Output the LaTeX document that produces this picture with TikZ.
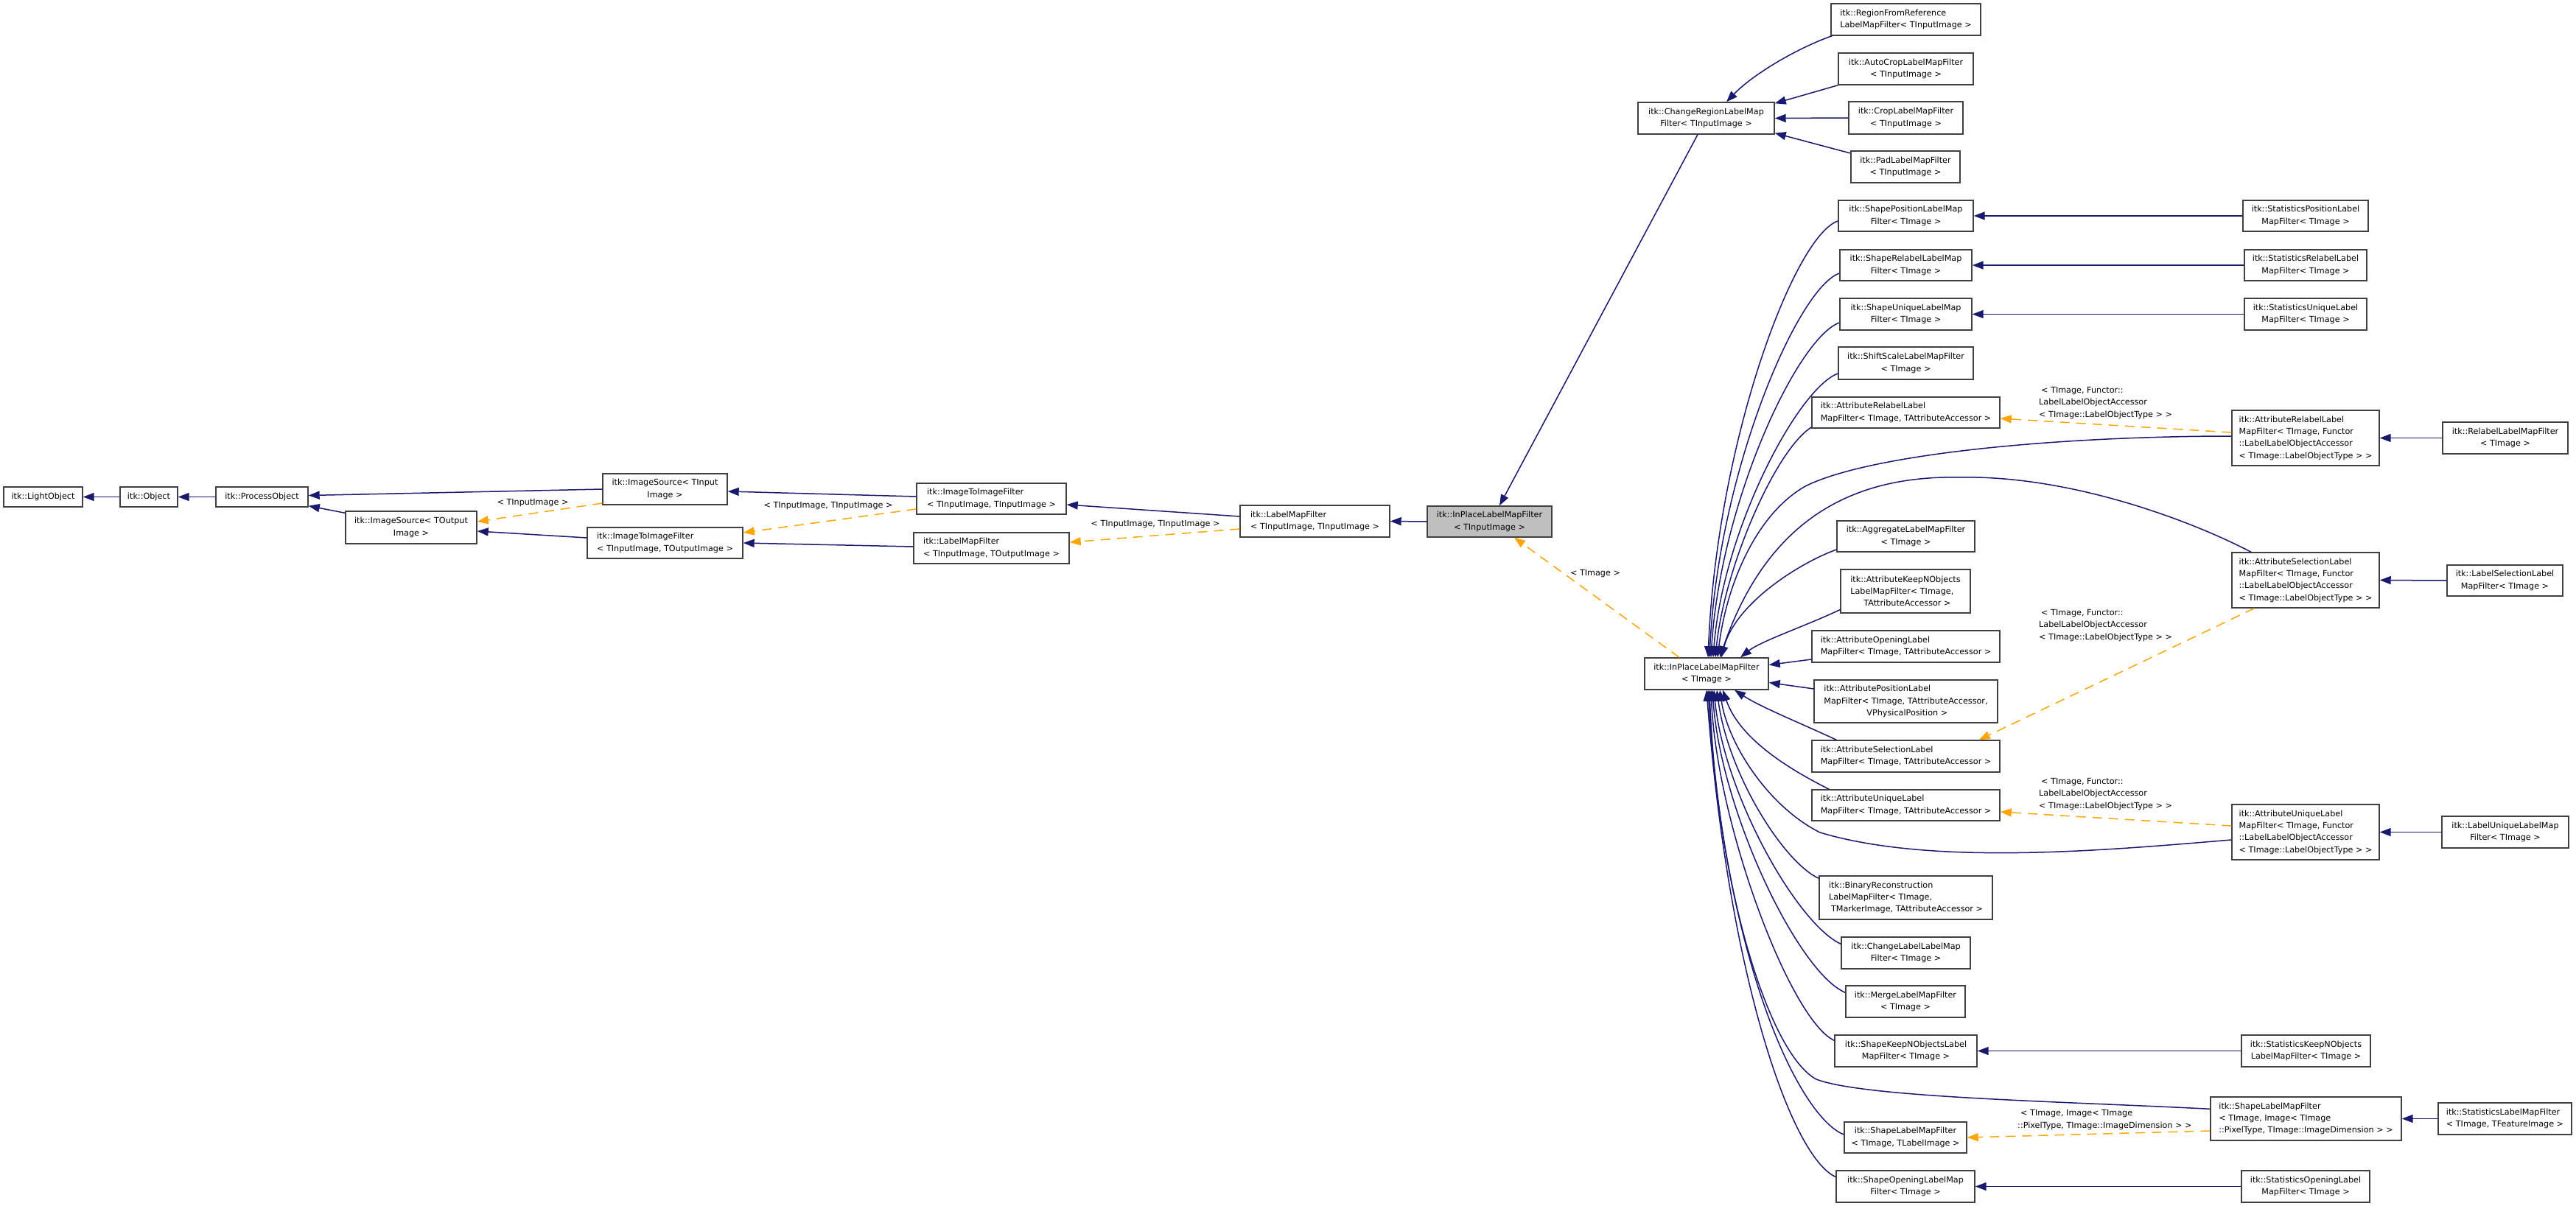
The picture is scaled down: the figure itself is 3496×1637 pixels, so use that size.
\documentclass[tikz,border=0pt]{standalone}
\usepackage{fontspec}
\setmainfont{DejaVu Sans}
\usetikzlibrary{arrows.meta}
\definecolor{navy}{HTML}{191970}
\definecolor{dorange}{HTML}{FFA500}
\definecolor{boxgray}{HTML}{404040}
\definecolor{grayfill}{HTML}{BFBFBF}
\newcommand\nf{\fontsize{11.2}{16.3}\selectfont}
\tikzset{
  cls/.style={draw=boxgray, line width=1.4pt, fill=white, inner sep=0pt, font=\nf, align=center},
  lcls/.style={cls, align=left},
  inh/.style={draw=navy, line width=1.5pt, -{Triangle[length=15pt,width=11pt]}},
  tpl/.style={draw=dorange, line width=1.5pt, dash pattern=on 13pt off 9pt, -{Triangle[length=15pt,width=11pt]}},
  lab/.style={font=\nf, inner sep=0pt, align=center},
  llab/.style={font=\nf, inner sep=0pt, align=left, anchor=west},
}
\begin{document}
\begin{tikzpicture}[x=1pt,y=-1pt]
\useasboundingbox[fill=white] (0,0) rectangle (3496,1637);

% ---------- left chain ----------
\node[cls,minimum width=107pt,minimum height=27pt] (lo) at (58.5,674.5) {itk::LightObject};
\node[cls,minimum width=78pt,minimum height=27pt] (obj) at (202,674.5) {itk::Object};
\node[cls,minimum width=125pt,minimum height=27pt] (po) at (355.5,674.5) {itk::ProcessObject};
\node[cls,minimum width=169pt,minimum height=42pt] (isi) at (902.5,664) {itk::ImageSource< TInput\\Image >};
\node[cls,minimum width=178pt,minimum height=44pt] (iso) at (558,716) {itk::ImageSource< TOutput\\Image >};
\node[lcls,minimum width=211pt,minimum height=42pt] (iito) at (902.5,737) {itk::ImageToImageFilter\\< TInputImage, TOutputImage >};
\node[lcls,minimum width=203pt,minimum height=42pt] (iiti) at (1345.5,677) {itk::ImageToImageFilter\\< TInputImage, TInputImage >};
\node[lcls,minimum width=211pt,minimum height=42pt] (lmto) at (1345.5,744) {itk::LabelMapFilter\\< TInputImage, TOutputImage >};
\node[lcls,minimum width=203pt,minimum height=43pt] (lmti) at (1784.5,707.5) {itk::LabelMapFilter\\< TInputImage, TInputImage >};
\node[cls,fill=grayfill,minimum width=169pt,minimum height=42pt] (ipti) at (2021.5,708) {itk::InPlaceLabelMapFilter\\< TInputImage >};

% ---------- top right ----------
\node[cls,minimum width=185pt,minimum height=43pt] (crl) at (2315.5,160.5) {itk::ChangeRegionLabelMap\\Filter< TInputImage >};
\node[lcls,minimum width=203pt,minimum height=43pt] (rfr) at (2586.5,26.5) {itk::RegionFromReference\\LabelMapFilter< TInputImage >};
\node[cls,minimum width=183pt,minimum height=43pt] (acr) at (2586.5,93.5) {itk::AutoCropLabelMapFilter\\< TInputImage >};
\node[cls,minimum width=155pt,minimum height=44pt] (cro) at (2586.5,160) {itk::CropLabelMapFilter\\< TInputImage >};
\node[cls,minimum width=148pt,minimum height=43pt] (pad) at (2586,226.5) {itk::PadLabelMapFilter\\< TInputImage >};

% ---------- middle column ----------
\node[cls,minimum width=183pt,minimum height=42pt] (spos) at (2586.5,293) {itk::ShapePositionLabelMap\\Filter< TImage >};
\node[cls,minimum width=179pt,minimum height=42pt] (srel) at (2586.5,360) {itk::ShapeRelabelLabelMap\\Filter< TImage >};
\node[cls,minimum width=179pt,minimum height=43pt] (suni) at (2586.5,426.5) {itk::ShapeUniqueLabelMap\\Filter< TImage >};
\node[cls,minimum width=183pt,minimum height=44pt] (ssc) at (2586.5,493) {itk::ShiftScaleLabelMapFilter\\< TImage >};
\node[lcls,minimum width=255pt,minimum height=42pt] (arl) at (2586.5,560) {itk::AttributeRelabelLabel\\MapFilter< TImage, TAttributeAccessor >};
\node[cls,minimum width=187pt,minimum height=42pt] (agg) at (2586.5,728) {itk::AggregateLabelMapFilter\\< TImage >};
\node[lcls,minimum width=176pt,minimum height=59pt] (akn) at (2586,802.5) {itk::AttributeKeepNObjects\\LabelMapFilter< TImage,\\\hspace*{18pt}TAttributeAccessor >};
\node[lcls,minimum width=255pt,minimum height=43pt] (aop) at (2586.5,877.5) {itk::AttributeOpeningLabel\\MapFilter< TImage, TAttributeAccessor >};
\node[cls,minimum width=168pt,minimum height=43pt] (ipt) at (2316,914.5) {itk::InPlaceLabelMapFilter\\< TImage >};
\node[lcls,minimum width=249pt,minimum height=58pt] (apo) at (2586.5,952) {itk::AttributePositionLabel\\MapFilter< TImage, TAttributeAccessor,\\\hspace*{58pt}VPhysicalPosition >};
\node[lcls,minimum width=255pt,minimum height=43pt] (ase) at (2586.5,1026.5) {itk::AttributeSelectionLabel\\MapFilter< TImage, TAttributeAccessor >};
\node[lcls,minimum width=255pt,minimum height=42pt] (aun) at (2586.5,1093) {itk::AttributeUniqueLabel\\MapFilter< TImage, TAttributeAccessor >};
\node[lcls,minimum width=235pt,minimum height=59pt] (bin) at (2586.5,1218.5) {itk::BinaryReconstruction\\LabelMapFilter< TImage,\\\hspace*{3pt}TMarkerImage, TAttributeAccessor >};
\node[cls,minimum width=175pt,minimum height=43pt] (chl) at (2586.5,1293.5) {itk::ChangeLabelLabelMap\\Filter< TImage >};
\node[cls,minimum width=162pt,minimum height=43pt] (mer) at (2586,1359.5) {itk::MergeLabelMapFilter\\< TImage >};
\node[cls,minimum width=193pt,minimum height=43pt] (skn) at (2586.5,1426.5) {itk::ShapeKeepNObjectsLabel\\MapFilter< TImage >};
\node[cls,minimum width=166pt,minimum height=42pt] (slm) at (2586,1544) {itk::ShapeLabelMapFilter\\< TImage, TLabelImage >};
\node[cls,minimum width=188pt,minimum height=43pt] (sop) at (2586,1610.5) {itk::ShapeOpeningLabelMap\\Filter< TImage >};

% ---------- right columns ----------
\node[cls,minimum width=170pt,minimum height=42pt] (stpos) at (3129,293) {itk::StatisticsPositionLabel\\MapFilter< TImage >};
\node[cls,minimum width=166pt,minimum height=42pt] (strel) at (3129,360) {itk::StatisticsRelabelLabel\\MapFilter< TImage >};
\node[cls,minimum width=166pt,minimum height=43pt] (stuni) at (3129,426.5) {itk::StatisticsUniqueLabel\\MapFilter< TImage >};
\node[lcls,minimum width=200pt,minimum height=75pt] (arlf) at (3129,594.5) {itk::AttributeRelabelLabel\\MapFilter< TImage, Functor\\::LabelLabelObjectAccessor\\< TImage::LabelObjectType > >};
\node[cls,minimum width=170pt,minimum height=43pt] (rel) at (3400,594.5) {itk::RelabelLabelMapFilter\\< TImage >};
\node[lcls,minimum width=200pt,minimum height=75pt] (asef) at (3129,787.5) {itk::AttributeSelectionLabel\\MapFilter< TImage, Functor\\::LabelLabelObjectAccessor\\< TImage::LabelObjectType > >};
\node[cls,minimum width=157pt,minimum height=42pt] (lsel) at (3399.5,788) {itk::LabelSelectionLabel\\MapFilter< TImage >};
\node[lcls,minimum width=200pt,minimum height=75pt] (aunf) at (3129,1129.5) {itk::AttributeUniqueLabel\\MapFilter< TImage, Functor\\::LabelLabelObjectAccessor\\< TImage::LabelObjectType > >};
\node[cls,minimum width=172pt,minimum height=43pt] (luni) at (3400,1129.5) {itk::LabelUniqueLabelMap\\Filter< TImage >};
\node[cls,minimum width=175pt,minimum height=43pt] (stkn) at (3129.5,1426.5) {itk::StatisticsKeepNObjects\\LabelMapFilter< TImage >};
\node[lcls,minimum width=259pt,minimum height=59pt] (slmb) at (3129.5,1518.5) {itk::ShapeLabelMapFilter\\< TImage, Image< TImage\\::PixelType, TImage::ImageDimension > >};
\node[lcls,minimum width=181pt,minimum height=43pt] (stlm) at (3399.5,1518.5) {itk::StatisticsLabelMapFilter\\< TImage, TFeatureImage >};
\node[cls,minimum width=174pt,minimum height=43pt] (stop) at (3129,1610.5) {itk::StatisticsOpeningLabel\\MapFilter< TImage >};

% ---------- labels on template edges ----------
\node[lab] (l1) at (723,683) {< TInputImage >};
\node[lab] (l2) at (1124,687) {< TInputImage, TInputImage >};
\node[lab] (l3) at (1568,712) {< TInputImage, TInputImage >};
\node[lab] (l4) at (2165,779) {< TImage >};
\node[llab] (l5) at (2767,547) {\hspace*{3pt}< TImage, Functor::\\LabelLabelObjectAccessor\\< TImage::LabelObjectType > >};
\node[llab] (l6) at (2767,849) {\hspace*{3pt}< TImage, Functor::\\LabelLabelObjectAccessor\\< TImage::LabelObjectType > >};
\node[llab] (l7) at (2767,1078) {\hspace*{3pt}< TImage, Functor::\\LabelLabelObjectAccessor\\< TImage::LabelObjectType > >};
\node[llab] (l8) at (2738,1520) {\hspace*{4pt}< TImage, Image< TImage\\::PixelType, TImage::ImageDimension > >};

% ---------- straight inheritance edges ----------
\draw[inh] (obj.west) -- (lo.east);
\draw[inh] (po.west) -- (obj.east);
\draw[inh] (isi.west) -- ([yshift=2pt]po.east);
\draw[inh] ([yshift=-3pt]iso.north west) -- ([yshift=2pt]po.south east);
\draw[inh] ([yshift=7pt]iito.west) -- ([yshift=-5pt]iso.east);
\draw[inh] ([yshift=3pt]iiti.west) -- ([yshift=-3pt]isi.east);
\draw[inh] ([yshift=2pt]lmto.west) -- (iito.east);
\draw[inh] ([yshift=6.5pt]lmti.west) -- ([yshift=-8pt]iiti.east);
\draw[inh] (ipti.west) -- (lmti.east);
\draw[inh] ([xshift=-11.5pt]crl.south) -- ([xshift=13.5pt]ipti.north);

\draw[inh] ([xshift=2pt]rfr.south west) .. controls (2440,65) and (2380,100) .. ([xshift=27.5pt]crl.north);
\draw[inh] (acr.south west) -- ([yshift=-2pt]crl.north east);
\draw[inh] (cro.west) -- (crl.east);
\draw[inh] ([yshift=18.5pt]pad.west) -- ([yshift=2pt]crl.south east);

\draw[inh] (stpos.west) -- (spos.east);
\draw[inh] (strel.west) -- (srel.east);
\draw[inh] (stuni.west) -- (suni.east);
\draw[inh] (rel.west) -- (arlf.east);
\draw[inh] (lsel.west) -- (asef.east);
\draw[inh] (luni.west) -- (aunf.east);
\draw[inh] (stkn.west) -- (skn.east);
\draw[inh] (stlm.west) -- (slmb.east);
\draw[inh] (stop.west) -- (sop.east);

% ---------- template edges ----------
\draw[tpl] ([yshift=-19pt]isi.west) -- ([yshift=8pt]iso.east);
\draw[tpl] ([yshift=-14pt]iiti.west) -- ([yshift=14pt]iito.east);
\draw[tpl] ([yshift=-10.5pt]lmti.west) -- ([yshift=8pt]lmto.east);
\draw[tpl] ([xshift=-37pt]ipt.north) -- ([xshift=33.5pt]ipti.south);
\draw[tpl] ([yshift=7.5pt]arlf.west) -- ([yshift=-8pt]arl.east);
\draw[tpl] ([xshift=31pt]asef.south west) -- ([xshift=-29pt]ase.north east);
\draw[tpl] ([yshift=8.5pt]aunf.west) -- ([yshift=-9pt]aun.east);
\draw[tpl] ([yshift=-16.5pt]slmb.west) -- (slm.east);

% ---------- curves into InPlaceLabelMapFilter<TImage> (top) ----------
\draw[inh] ([yshift=-7pt]spos.west) .. controls (2435,320) and (2330,600) .. ([xshift=2pt]ipt.north);
\draw[inh] ([yshift=-11pt]srel.west) .. controls (2440,390) and (2332,640) .. ([xshift=4pt]ipt.north);
\draw[inh] ([yshift=-11.5pt]suni.west) .. controls (2440,458) and (2335,680) .. ([xshift=6pt]ipt.north);
\draw[inh] ([yshift=-14pt]ssc.west) .. controls (2440,527) and (2338,720) .. ([xshift=9pt]ipt.north);
\draw[inh] ([yshift=-20pt]arl.west) .. controls (2410,610) and (2340,770) .. ([xshift=12pt]ipt.north);
\draw[inh] ([yshift=2.5pt]arlf.west) .. controls (2800,592) and (2540,615) .. (2450,660) .. controls (2380,700) and (2342,800) .. ([xshift=15pt]ipt.north);
\draw[inh] ([xshift=-74pt]asef.north) .. controls (2960,700) and (2800,645) .. (2660,648) .. controls (2520,645) and (2400,700) .. ([xshift=18pt]ipt.north);
\draw[inh] ([yshift=-18pt]agg.west) .. controls (2440,765) and (2355,820) .. ([xshift=20pt]ipt.north);
\draw[inh] ([yshift=-25pt]akn.west) .. controls (2450,850) and (2390,870) .. ([xshift=46pt]ipt.north);

% ---------- into the right side ----------
\draw[inh] ([yshift=-17.5pt]aop.west) -- ([yshift=12pt]ipt.east);
\draw[inh] ([yshift=17pt]apo.west) -- ([yshift=-12pt]ipt.east);

% ---------- curves into InPlaceLabelMapFilter<TImage> (bottom) ----------
\draw[inh] ([xshift=34pt]ase.north west) .. controls (2440,980) and (2390,960) .. ([xshift=38pt]ipt.south);
\draw[inh] ([xshift=24pt]aun.north west) .. controls (2420,1040) and (2360,1000) .. ([xshift=22pt]ipt.south);
\draw[inh] ([yshift=-10.5pt]aunf.west) .. controls (2850,1155) and (2620,1175) .. (2470,1130) .. controls (2400,1095) and (2345,1010) .. ([xshift=18pt]ipt.south);
\draw[inh] ([yshift=-4pt]bin.north west) .. controls (2420,1170) and (2345,1050) .. ([xshift=14pt]ipt.south);
\draw[inh] ([yshift=-10pt]chl.north west) .. controls (2440,1255) and (2340,1080) .. ([xshift=10pt]ipt.south);
\draw[inh] ([yshift=-10pt]mer.north west) .. controls (2440,1320) and (2335,1100) .. ([xshift=8pt]ipt.south);
\draw[inh] ([yshift=-8pt]skn.north west) .. controls (2430,1385) and (2330,1120) .. ([xshift=6pt]ipt.south);
\draw[inh] ([yshift=-17pt]slmb.north west) .. controls (2800,1495) and (2530,1490) .. (2465,1465) .. controls (2400,1430) and (2330,1200) .. ([xshift=4pt]ipt.south);
\draw[inh] ([yshift=4pt]slm.west) .. controls (2440,1515) and (2340,1300) .. ([xshift=2pt]ipt.south);
\draw[inh] ([yshift=13pt]sop.west) .. controls (2430,1570) and (2345,1320) .. (ipt.south);

\end{tikzpicture}
\end{document}
